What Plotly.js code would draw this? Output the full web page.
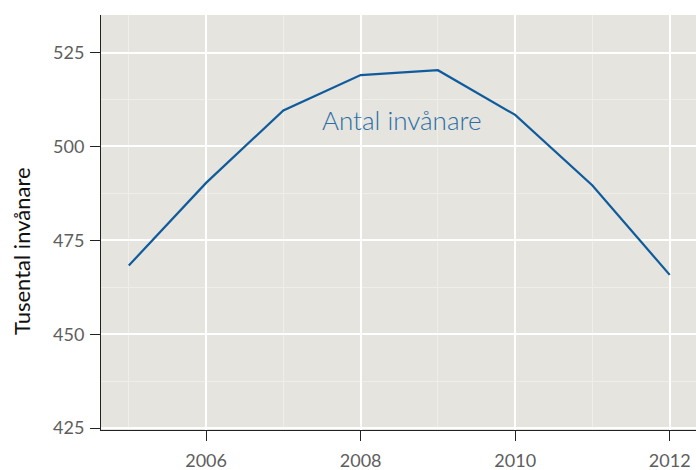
<!DOCTYPE html>
<html><head><meta charset="utf-8">
<script src="https://cdn.plot.ly/plotly-3.0.1.min.js"></script>
<style>body{margin:0;padding:0;background:#fff}#c{width:696px;height:470px}</style>
</head><body><div id="c"></div>
<script>
const years = [2005, 2006, 2007, 2008, 2009, 2010, 2011, 2012];
const inhabitants = [468.3, 490.3, 509.6, 519.0, 520.3, 508.4, 489.6, 465.8];
const seriesLabel = "Antal invånare";
const yTitle = "Tusental invånare";
const yTicks = [425, 450, 475, 500, 525];
const xTicks = [2006, 2008, 2010, 2012];

const data = [{
  x: years, y: inhabitants, type: 'scatter', mode: 'lines',
  line: {color: '#0f5b9b', width: 2.2}, hoverinfo: 'skip'
}];
const layout = {
  width: 696, height: 470,
  margin: {l: 101, r: 0, t: 15, b: 40},
  paper_bgcolor: '#ffffff', plot_bgcolor: '#e5e4de',
  showlegend: false,
  font: {family: 'Lato, "Open Sans", sans-serif', color: '#555555', size: 17},
  xaxis: {
    range: [2004.64, 2012.34], tickvals: xTicks, ticktext: xTicks.map(String),
    showgrid: true, gridcolor: '#ffffff', gridwidth: 2,
    minor: {dtick: 1, tick0: 2005, showgrid: true, gridcolor: '#efeee9', gridwidth: 1, ticklen: 0},
    showline: true, linecolor: '#222222', linewidth: 1,
    ticks: 'outside', ticklen: 10, tickcolor: '#222222', tickwidth: 1,
    ticklabelstandoff: 4,
    tickfont: {size: 18, color: '#5e5e5e'}, zeroline: false, fixedrange: true
  },
  yaxis: {
    range: [424.5, 535], tickvals: yTicks,
    showgrid: true, gridcolor: '#ffffff', gridwidth: 2,
    minor: {dtick: 12.5, tick0: 425, showgrid: true, gridcolor: '#efeee9', gridwidth: 1, ticklen: 0},
    showline: true, linecolor: '#222222', linewidth: 1,
    ticks: 'outside', ticklen: 10, tickcolor: '#222222', tickwidth: 1,
    ticklabelstandoff: 2,
    tickfont: {size: 18, color: '#5e5e5e'}, zeroline: false, fixedrange: true
  },
  annotations: [{
    x: 2008.53, y: 507, xref: 'x', yref: 'y', text: seriesLabel, showarrow: false,
    font: {size: 26, color: '#2a6ea6', family: 'Lato, sans-serif', weight: 300}
  }, {
    x: 21, y: 251, xref: 'paper', yref: 'paper', text: yTitle, showarrow: false,
    textangle: -90, xanchor: 'center', yanchor: 'middle',
    font: {size: 22, color: '#111111', family: 'Lato, sans-serif'}
  }]
};
// position y-title annotation in pixel space
layout.annotations[1].x = (21 - 101) / (696 - 101);
layout.annotations[1].y = (470 - 40 - 251) / (470 - 40 - 15);
Plotly.newPlot('c', data, layout, {displayModeBar: false, staticPlot: true});
</script></body></html>
